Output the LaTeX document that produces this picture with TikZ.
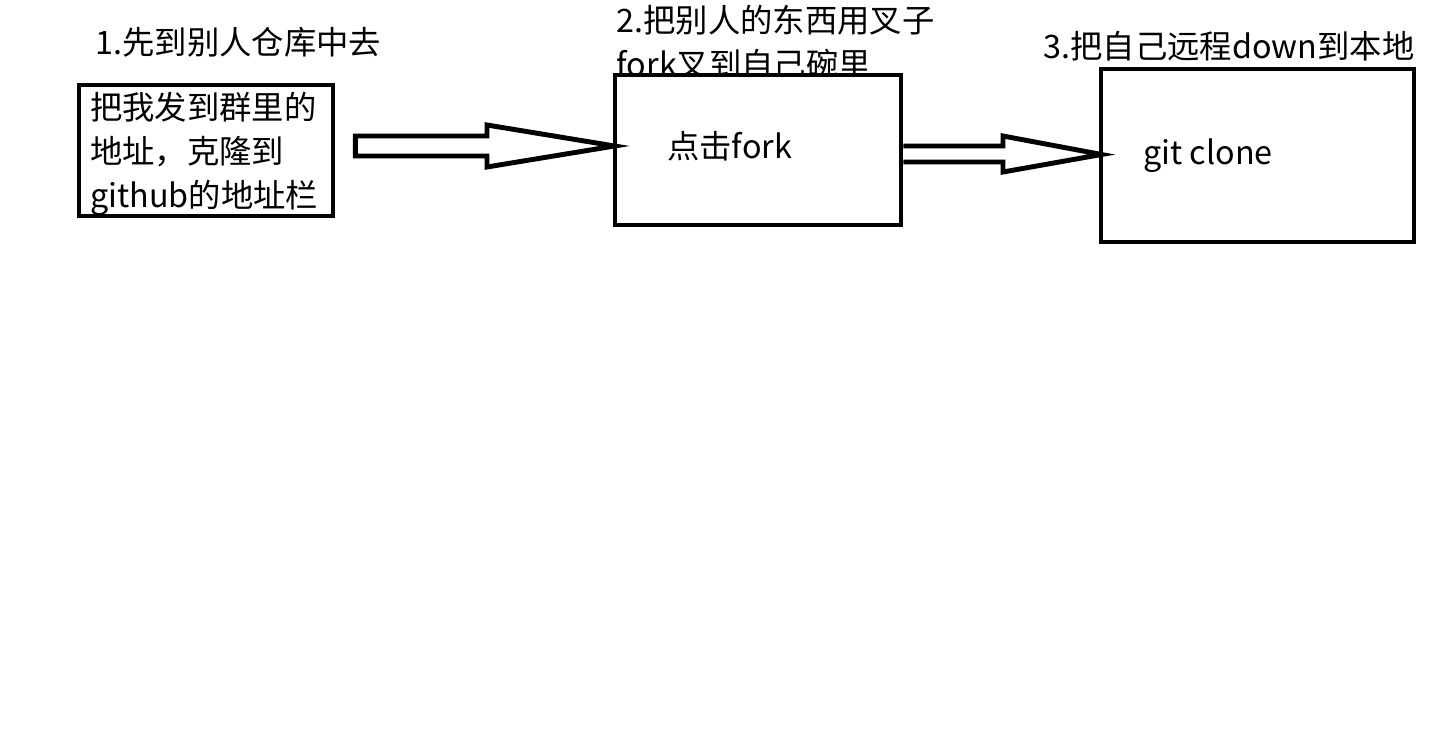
\documentclass[tikz,border=0pt]{standalone}
\usepackage{fontspec}
\setmainfont{Noto Sans CJK SC}
\usetikzlibrary{positioning, calc}

\begin{document}
\begin{tikzpicture}[
    box/.style={
        rectangle,
        draw=black,
        fill=white,
        line width=1.4pt,
        inner sep=0pt
    },
    bigarrow/.style={
        draw=black,
        fill=white,
        line width=1.4pt,
        line join=miter
    },
    steplabel/.style={
        anchor=west,
        align=left,
        inner sep=0pt,
        font=\fontsize{9.2pt}{12.5pt}\selectfont
    }
]

% Page frame
\useasboundingbox (0,0) rectangle (14.42,7.30);

% Step labels
\node[steplabel] (l1) at (0.95,6.88) {1.先到别人仓库中去};
\node[steplabel] (l2) at (6.16,6.88) {2.把别人的东西用叉子\\fork叉到自己碗里};
\node[steplabel] (l3) at (10.43,6.84) {3.把自己远程down到本地};

% Boxes
\node[box, minimum width=2.54cm, minimum height=1.31cm] (b1) at (2.06,5.795) {};
\node[box, minimum width=2.86cm, minimum height=1.50cm] (b2) at (7.58,5.80) {};
\node[box, minimum width=3.13cm, minimum height=1.73cm] (b3) at (12.575,5.745) {};

% Box texts
\node[steplabel] (t1) at ($(b1.west)+(0.13,-0.035)$) {把我发到群里的\\地址，克隆到\\github的地址栏};
\node[steplabel] (t2) at ($(b2.west)+(0.54,0.04)$) {点击fork};
\node[steplabel] (t3) at ($(b3.west)+(0.44,0.0)$) {git clone};

% Arrow 1
\coordinate (a1s) at ($(b1.east)+(0.20,0.045)$);
\coordinate (a1h) at (4.87,5.84);
\coordinate (a1t) at ($(b2.west)+(0.02,0.04)$);
\draw[bigarrow] ($(a1s)+(0,0.10)$) -- ($(a1h)+(0,0.10)$) -- ($(a1h)+(0,0.21)$)
    -- (a1t) -- ($(a1h)+(0,-0.21)$) -- ($(a1h)+(0,-0.10)$) -- ($(a1s)+(0,-0.10)$) -- cycle;

% Arrow 2
\coordinate (a2s) at ($(b2.east)+(0,-0.04)$);
\coordinate (a2h) at (10.03,5.76);
\coordinate (a2t) at ($(b3.west)+(0.03,0.01)$);
\draw[bigarrow] ($(a2s)+(0,0.08)$) -- ($(a2h)+(0,0.08)$) -- ($(a2h)+(0,0.18)$)
    -- (a2t) -- ($(a2h)+(0,-0.18)$) -- ($(a2h)+(0,-0.08)$) -- ($(a2s)+(0,-0.08)$);

\end{tikzpicture}
\end{document}
